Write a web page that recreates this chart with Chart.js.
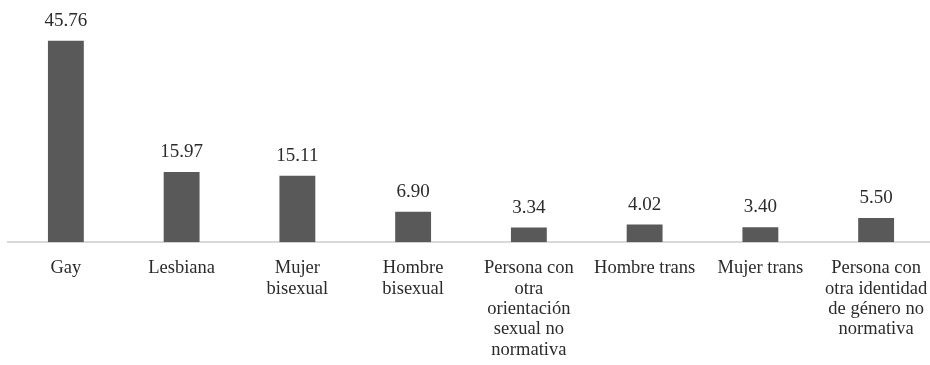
<!DOCTYPE html>
<html>
<head>
<meta charset="utf-8">
<script src="https://cdn.jsdelivr.net/npm/chart.js@4"></script>
<style>
  body { margin: 0; background: #fff; overflow: hidden; }
  #wrap { position: relative; width: 934px; height: 380px; }
</style>
</head>
<body>
<div id="wrap"><canvas id="graph"></canvas></div>
<script>
const categories = [
  "Gay",
  "Lesbiana",
  ["Mujer", "bisexual"],
  ["Hombre", "bisexual"],
  ["Persona con", "otra", "orientación", "sexual no", "normativa"],
  "Hombre trans",
  "Mujer trans",
  ["Persona con", "otra identidad", "de género no", "normativa"],
];
const values = [45.76, 15.97, 15.11, 6.9, 3.34, 4.02, 3.4, 5.5];

const textColor = "#2b2b2b";
const serif = "'Liberation Serif', 'DejaVu Serif', 'Times New Roman', serif";

// draws the number above each bar
const valueLabels = {
  id: "valueLabels",
  afterDatasetsDraw(chart) {
    const ctx = chart.ctx;
    const meta = chart.getDatasetMeta(0);
    ctx.save();
    ctx.font = "19px " + serif;
    ctx.fillStyle = textColor;
    ctx.textAlign = "center";
    ctx.textBaseline = "middle";
    meta.data.forEach((bar, i) => {
      ctx.fillText(values[i].toFixed(2), bar.x, bar.y - 20);
    });
    ctx.restore();
  },
};

new Chart(document.querySelector("#graph"), {
  type: "bar",
  data: {
    labels: categories,
    datasets: [
      {
        data: values,
        backgroundColor: "#595959",
        barPercentage: 0.31,
        categoryPercentage: 1,
      },
    ],
  },
  options: {
    responsive: true,
    maintainAspectRatio: false,
    animation: false,
    layout: { padding: { left: 8, right: 0, top: 22, bottom: 4 } },
    plugins: { legend: { display: false }, tooltip: { enabled: false } },
    scales: {
      x: {
        grid: { display: false, drawTicks: false },
        border: { display: true, color: "#d9d9d9", width: 2 },
        ticks: {
          color: textColor,
          maxRotation: 0,
          autoSkip: false,
          padding: 16,
          font: { family: serif, size: 18.5, lineHeight: 1.1 },
        },
        // the last label may run off the edge, as in the original
        afterFit(scale) {
          scale.paddingLeft = 0;
          scale.paddingRight = 0;
        },
      },
      y: { display: false, min: 0, max: 50 },
    },
  },
  plugins: [valueLabels],
});
</script>
</body>
</html>
